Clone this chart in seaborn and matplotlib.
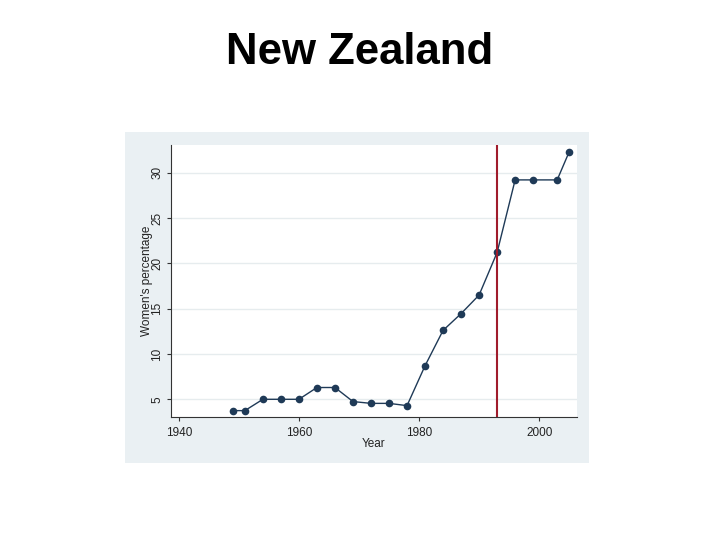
import pandas as pd
import seaborn as sns
import matplotlib.pyplot as plt
from matplotlib.patches import Rectangle

years = [1949, 1951, 1954, 1957, 1960, 1963, 1966, 1969, 1972, 1975, 1978,
         1981, 1984, 1987, 1990, 1993, 1996, 1999, 2003, 2005]
women_pct = [3.75, 3.75, 5.0, 5.0, 5.0, 6.3, 6.3, 4.75, 4.55, 4.55, 4.3,
             8.7, 12.6, 14.45, 16.5, 21.2, 29.2, 29.2, 29.2, 32.3]
reform_year = 1993
x_ticks = [1940, 1960, 1980, 2000]
y_ticks = [5, 10, 15, 20, 25, 30]

df = pd.DataFrame({'Year': years, 'Women': women_pct})

sns.set_style("white")
plt.rcParams['font.family'] = ['Liberation Sans', 'DejaVu Sans']

fig = plt.figure(figsize=(7.2, 5.4), dpi=100)
# light panel behind the plot, like the Stata graph region
fig.patches.append(Rectangle((125 / 720, 1 - 463 / 540), 464 / 720, 331 / 540,
                             transform=fig.transFigure, facecolor='#eaf0f3',
                             edgecolor='none', zorder=-5))
ax = fig.add_axes([171 / 720, 1 - 416.7 / 540, 406 / 720, 271.7 / 540])
ax.set_zorder(1)
ax.set_facecolor('white')

for y in y_ticks:
    ax.axhline(y, color='#e6ecee', linewidth=1, zorder=0)

sns.lineplot(data=df, x='Year', y='Women', ax=ax, color='#1f3a57',
             linewidth=1, marker='o', markersize=5.5, markeredgewidth=0)
ax.axvline(reform_year, color='#a01c2c', linewidth=1.5)

ax.set_xlim(1938.7, 2006.3)
ax.set_ylim(3.08, 33.05)
ax.set_xticks(x_ticks)
ax.set_yticks(y_ticks)
ax.tick_params(axis='both', direction='out', length=3, width=0.8,
               labelsize=8.5, color='#333333', left=True, bottom=True,
               labelcolor='#222222')
ax.tick_params(axis='x', pad=4.5)
ax.tick_params(axis='y', pad=2.5)
plt.setp(ax.get_yticklabels(), rotation=90, va='center')
ax.set_xlabel('Year', fontsize=8.5, labelpad=-1, color='#222222')
ax.set_ylabel("Women's percentage", fontsize=8.5, labelpad=-1, color='#222222')

for s in ['top', 'right']:
    ax.spines[s].set_visible(False)
for s in ['left', 'bottom']:
    ax.spines[s].set_color('#333333')
    ax.spines[s].set_linewidth(0.8)

fig.text(0.5, 1 - 53 / 540, 'New Zealand', ha='center', va='center',
         fontsize=31.5, fontweight='bold', color='black')

fig.savefig('out.png', dpi=100)
